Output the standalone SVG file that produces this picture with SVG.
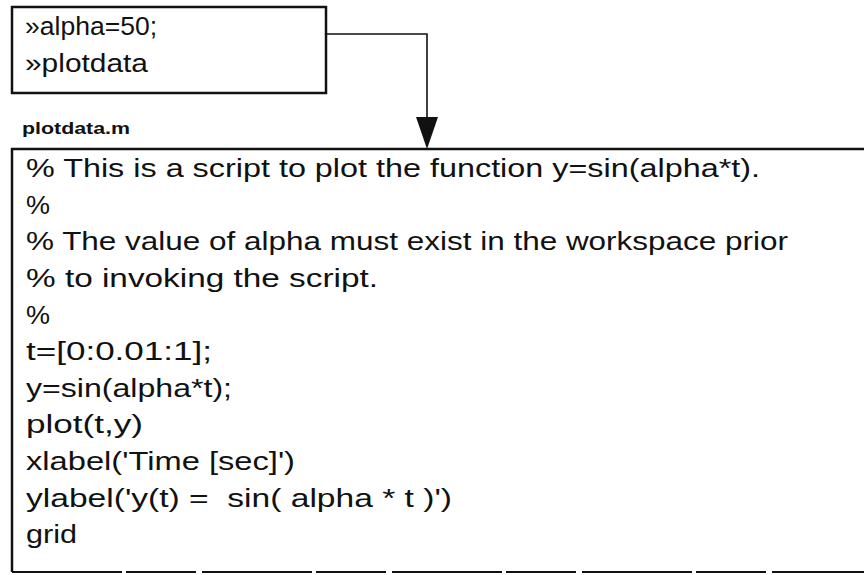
<svg xmlns="http://www.w3.org/2000/svg" width="864" height="575" viewBox="0 0 864 575">
<style>
.t{font-family:"Liberation Sans",Arial,sans-serif;font-size:26px;fill:#111;white-space:pre}
.lbl{font-family:"Liberation Sans",Arial,sans-serif;font-size:17px;font-weight:bold;fill:#111}
.box{fill:none;stroke:#111;stroke-width:2.5}
.conn{fill:none;stroke:#111;stroke-width:1.6}
</style>
<rect width="864" height="575" fill="#fff"/>
<g id="command-box">
<rect class="box" x="12" y="7" width="314" height="86"/>
<text class="t" x="25" y="35" textLength="132" lengthAdjust="spacingAndGlyphs">»alpha=50;</text>
<text class="t" x="25" y="72" textLength="123" lengthAdjust="spacingAndGlyphs">»plotdata</text>
</g>
<g id="connectors">
<path class="conn" d="M326,34 H427 V117"/>
<path d="M416,117 L438,117 L427,149 Z" fill="#111"/>
</g>
<g id="script-file">
<text class="lbl" x="22" y="134" textLength="108" lengthAdjust="spacingAndGlyphs">plotdata.m</text>
<path class="box" d="M864,149 H12 V572"/>
<path d="M12,572 H864" fill="none" stroke="#111" stroke-width="2" stroke-dasharray="110 4 70 6"/>
<text class="t" x="26" y="177" textLength="734" lengthAdjust="spacingAndGlyphs">% This is a script to plot the function y=sin(alpha*t).</text>
<text class="t" x="26" y="214" textLength="24" lengthAdjust="spacingAndGlyphs">%</text>
<text class="t" x="26" y="250" textLength="762" lengthAdjust="spacingAndGlyphs">% The value of alpha must exist in the workspace prior</text>
<text class="t" x="26" y="287" textLength="352" lengthAdjust="spacingAndGlyphs">% to invoking the script.</text>
<text class="t" x="26" y="324" textLength="24" lengthAdjust="spacingAndGlyphs">%</text>
<text class="t" x="26" y="360" textLength="186" lengthAdjust="spacingAndGlyphs">t=[0:0.01:1];</text>
<text class="t" x="26" y="397" textLength="206" lengthAdjust="spacingAndGlyphs">y=sin(alpha*t);</text>
<text class="t" x="26" y="433" textLength="117" lengthAdjust="spacingAndGlyphs">plot(t,y)</text>
<text class="t" x="26" y="470" textLength="269" lengthAdjust="spacingAndGlyphs">xlabel('Time [sec]')</text>
<text class="t" x="26" y="507" textLength="426" lengthAdjust="spacingAndGlyphs" xml:space="preserve">ylabel('y(t) =  sin( alpha * t )')</text>
<text class="t" x="26" y="543" textLength="51" lengthAdjust="spacingAndGlyphs">grid</text>
</g>
</svg>
